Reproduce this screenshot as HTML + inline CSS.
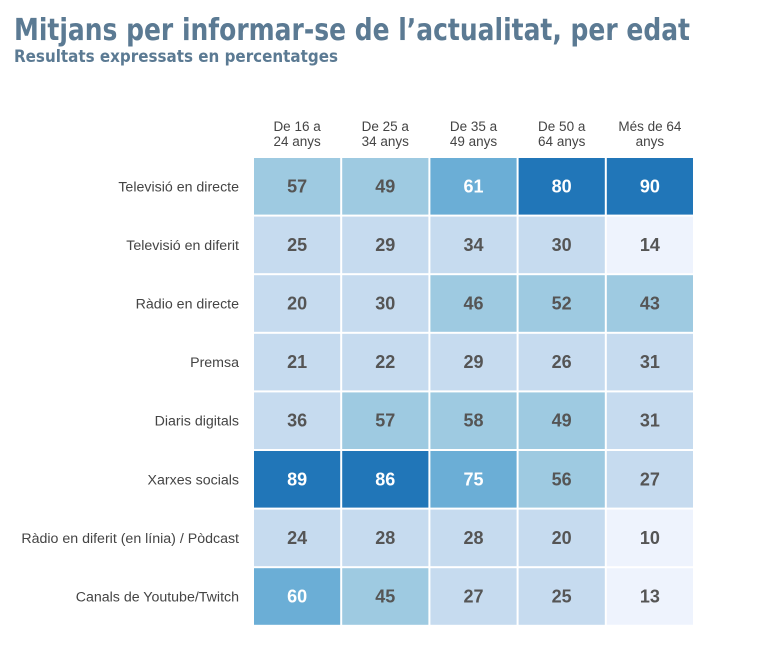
<!DOCTYPE html>
<html><head><meta charset="utf-8"><style>
body{margin:0;background:#fff;width:758px;height:658px;overflow:hidden;font-family:"Liberation Sans",sans-serif;position:relative}
</style></head><body>
<svg id="chart" width="758" height="658" style="position:absolute;left:0;top:0">
<text x="14" y="40" font-size="30" font-weight="bold" fill="#5b7a93" font-family="DejaVu Sans, Liberation Sans, sans-serif" textLength="676" lengthAdjust="spacingAndGlyphs">Mitjans per informar-se de l’actualitat, per edat</text>
<text x="14" y="62" font-size="17" font-weight="bold" fill="#5b7a93" font-family="DejaVu Sans, Liberation Sans, sans-serif" textLength="324" lengthAdjust="spacingAndGlyphs">Resultats expressats en percentatges</text>
</svg>
<script>
const cols=["De 16 a|24 anys","De 25 a|34 anys","De 35 a|49 anys","De 50 a|64 anys","Més de 64|anys"];
const rows=["Televisió en directe","Televisió en diferit","Ràdio en directe","Premsa","Diaris digitals","Xarxes socials","Ràdio en diferit (en línia) / Pòdcast","Canals de Youtube/Twitch"];
const v16=[57,25,20,21,36,89,24,60];
const v25=[49,29,30,22,57,86,28,45];
const v35=[61,34,46,29,58,75,28,27];
const v50=[80,30,52,26,49,56,20,25];
const v64=[90,14,43,31,31,27,10,13];
const series=[v16,v25,v35,v50,v64];
const NS="http://www.w3.org/2000/svg";
const svg=document.getElementById('chart');
const x0=254,pw=88.2,y0=158,ph=58.6,gap=2;
const xs=i=>x0+i*pw, ys=j=>y0+j*ph;
function col(v){return v>=80?'#2176b8':v>=60?'#6baed6':v>=40?'#9ecae1':v>=15?'#c6dbef':'#eef3fd';}
function t(x,y,s,a,fill,size,w){const e=document.createElementNS(NS,'text');e.setAttribute('x',x);e.setAttribute('y',y);e.setAttribute('text-anchor',a);e.setAttribute('fill',fill);e.setAttribute('font-size',size);if(w)e.setAttribute('font-weight',w);e.textContent=s;svg.appendChild(e);return e;}
cols.forEach((c,i)=>{c.split('|').forEach((l,k)=>{const e=t(xs(i)+pw/2-1,131+k*15,l,'middle','#444',13.5);

});});
rows.forEach((r,j)=>{const e=t(239,ys(j)+ph/2+4,r,'end','#444',14.2);

});
series.forEach((s,i)=>s.forEach((v,j)=>{
const r=document.createElementNS(NS,'rect');
r.setAttribute('x',xs(i));r.setAttribute('y',ys(j));r.setAttribute('width',pw-gap);r.setAttribute('height',ph-gap);r.setAttribute('fill',col(v));


svg.appendChild(r);
const e=t(xs(i)+(pw-gap)/2,ys(j)+(ph-gap)/2+6,String(v),'middle',v>=60?'#fff':'#555',18,'bold');


}));
</script>
</body></html>
